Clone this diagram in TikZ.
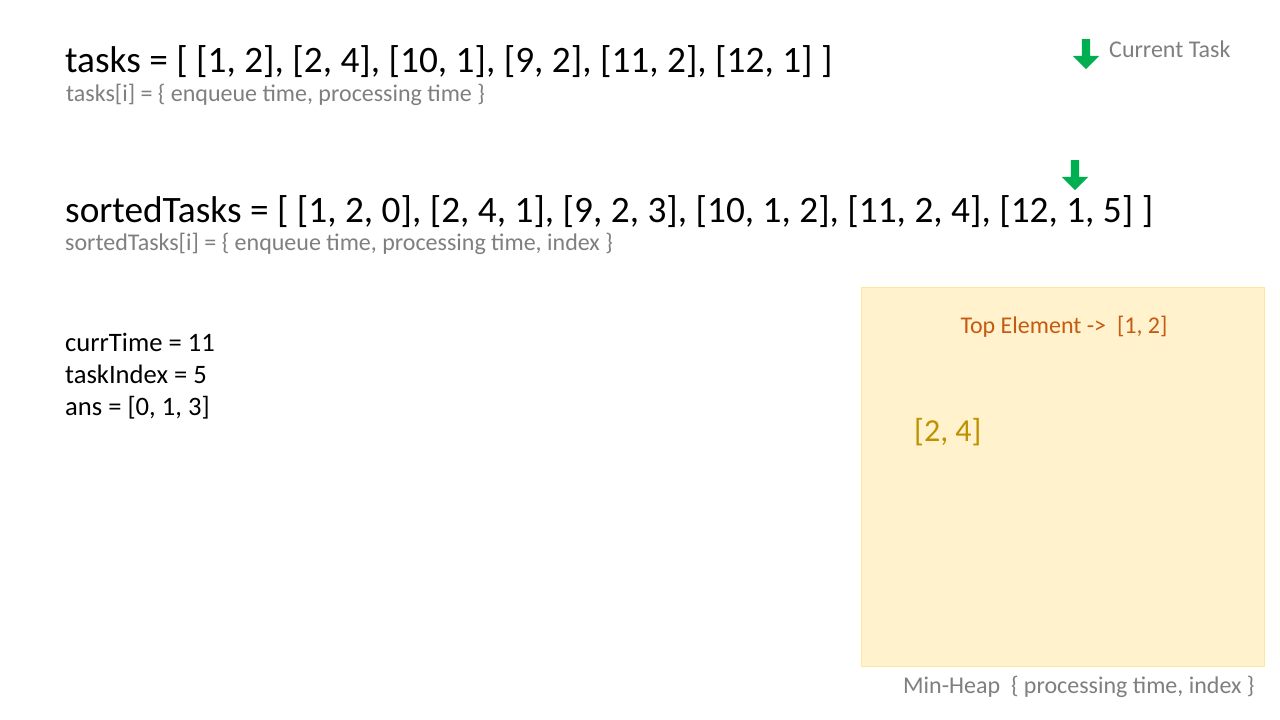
\documentclass[tikz,border=0pt]{standalone}
\usepackage{fontspec}
\setmainfont{Carlito}
\usetikzlibrary{shapes.arrows}
\definecolor{grn}{HTML}{00B050}
\definecolor{gtext}{HTML}{7F7F7F}
\definecolor{heapfill}{HTML}{FFF2CC}
\definecolor{heapline}{HTML}{FFE699}
\definecolor{toporange}{HTML}{C55A11}
\definecolor{elemgold}{HTML}{BF9000}
\begin{document}
\begin{tikzpicture}[x=1pt,y=-1pt,
  txt/.style={anchor=base west,inner sep=0pt},
  bigtxt/.style={txt,font=\fontsize{37.3}{44}\selectfont},
  subtxt/.style={txt,text=gtext,font=\fontsize{24}{29}\selectfont},
  vartxt/.style={txt,font=\fontsize{26.6}{32}\selectfont},
  greenarrow/.style={single arrow,draw=none,fill=grn,shape border rotate=270,
    minimum width=26pt,single arrow head extend=9pt,single arrow tip angle=90,
    minimum height=30pt,inner sep=0pt,single arrow head indent=0pt,text width=8pt}
]
\useasboundingbox (0,0) rectangle (1280,720);
\fill[white] (0,0) rectangle (1280,720);

\node[bigtxt] (tasks) at (65,72) {tasks = [ [1, 2], [2, 4], [10, 1], [9, 2], [11, 2], [12, 1] ]};
\node[subtxt] (tasksub) at (66,101) {tasks[i] = \{ enqueue time, processing time \}};

\node[bigtxt] (sorted) at (65,222) {sortedTasks = [ [1, 2, 0], [2, 4, 1], [9, 2, 3], [10, 1, 2], [11, 2, 4], [12, 1, 5] ]};
\node[subtxt] (sortedsub) at (65,250) {sortedTasks[i] = \{ enqueue time, processing time, index \}};

\node[vartxt] (curr) at (65,351) {currTime = 11};
\node[vartxt] (tidx) at (65,383) {taskIndex = 5};
\node[vartxt] (ans) at (65,415) {ans = [0, 1, 3]};

\node[greenarrow] (legarrow) at (1086,52) {};
\node[txt,text=gtext,font=\fontsize{24}{29}\selectfont] (legend) at (1109,57) {Current Task};
\node[greenarrow] (curarrow) at (1075,173) {};

\node[draw=heapline,fill=heapfill,line width=0.8pt,minimum width=403pt,minimum height=379pt,anchor=north west,inner sep=0pt] (heap) at (860.5,287) {};
\node[anchor=base,inner sep=0pt,text=toporange,font=\fontsize{24}{29}\selectfont] (top) at (1064,333) {Top Element ->\ \ [1, 2]};
\node[txt,text=elemgold,font=\fontsize{32}{38}\selectfont] (elem) at (914,441) {[2, 4]};
\node[txt,text=gtext,font=\fontsize{24}{29}\selectfont] (heaplabel) at (903,693) {Min-Heap\ \ \{ processing time, index \}};
\end{tikzpicture}
\end{document}
